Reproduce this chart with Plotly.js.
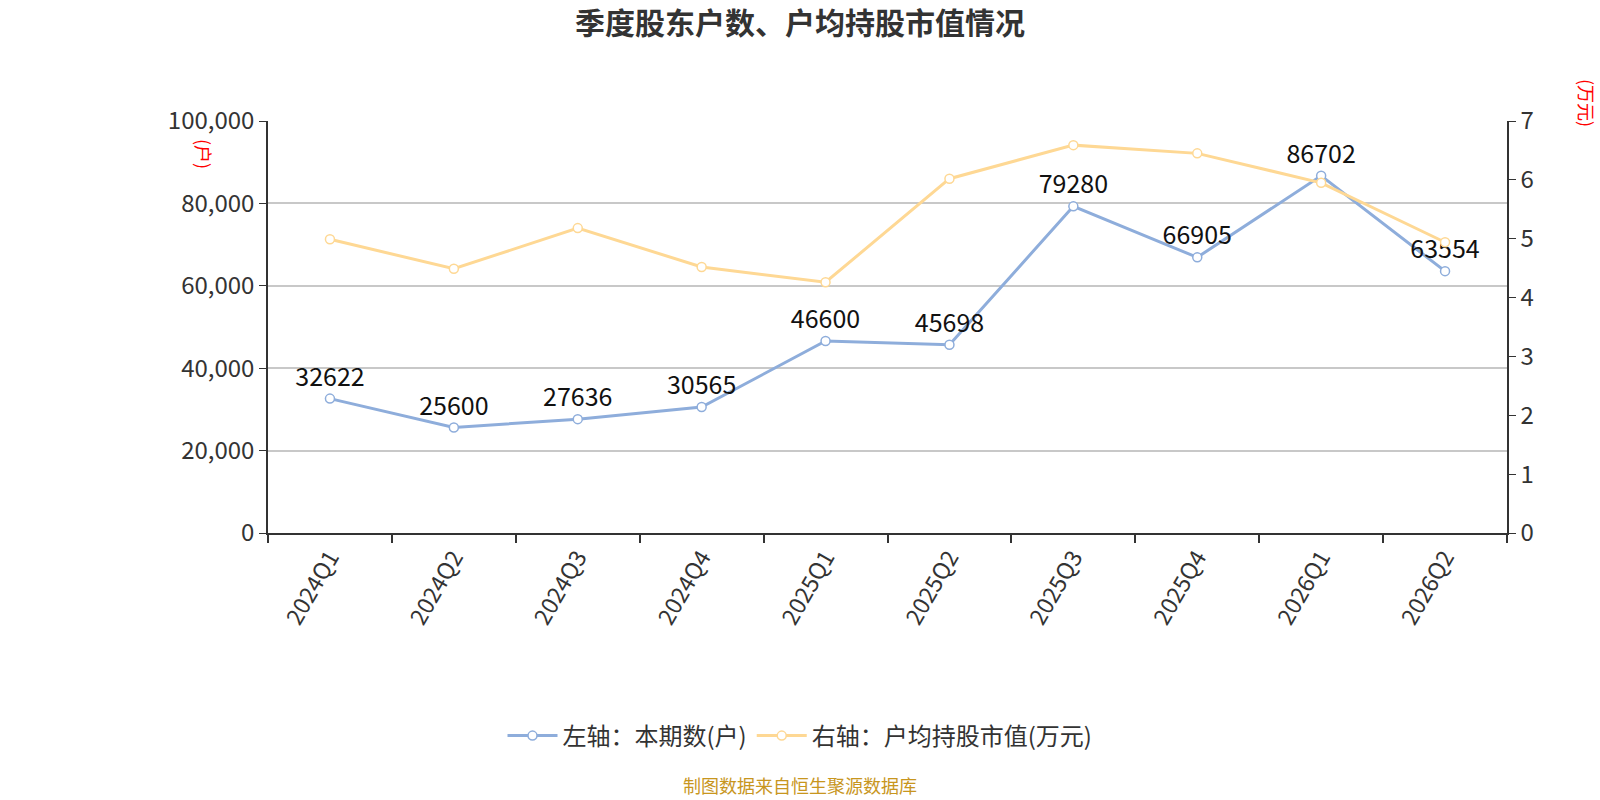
<!DOCTYPE html>
<html>
<head>
<meta charset="utf-8">
<script src="https://cdn.plot.ly/plotly-3.0.1.min.js"></script>
<style>
  html, body { margin: 0; padding: 0; background: #fff; }
  #chart { width: 1600px; height: 800px; }
</style>
</head>
<body>
<div id="chart"></div>
<script>
// quarters on the category axis
var quarters = ["2024Q1", "2024Q2", "2024Q3", "2024Q4", "2025Q1",
                "2025Q2", "2025Q3", "2025Q4", "2026Q1", "2026Q2"];

// left axis: shareholder count (户)
var holders = [32622, 25600, 27636, 30565, 46600, 45698, 79280, 66905, 86702, 63554];

// right axis: average holding value per account (万元)
var avgValue = [4.99, 4.49, 5.18, 4.52, 4.26, 6.02, 6.59, 6.45, 5.95, 4.94];

var fontCN = "'Microsoft YaHei', 'Noto Sans CJK SC', 'Noto Sans', sans-serif";
var blue = "#8eaddb";
var yellow = "#fed894";

// plot box in page pixels
var L = 268, R = 1507, T = 121, B = 533;
var W = R - L, H = B - T;

var data = [
    {
        type: "scatter",
        mode: "lines+markers+text",
        name: "左轴：本期数(户)",
        x: quarters,
        y: holders,
        text: holders.map(String),
        textposition: "top center",
        textfont: { size: 25, color: "#111", family: fontCN },
        line: { color: blue, width: 3 },
        marker: { symbol: "circle", size: 9, color: "#fff", line: { color: blue, width: 1.5 } },
        cliponaxis: false,
        hoverinfo: "x+y"
    },
    {
        type: "scatter",
        mode: "lines+markers",
        name: "右轴：户均持股市值(万元)",
        x: quarters,
        y: avgValue,
        yaxis: "y2",
        line: { color: yellow, width: 3 },
        marker: { symbol: "circle", size: 9, color: "#fff", line: { color: yellow, width: 1.5 } },
        cliponaxis: false,
        hoverinfo: "x+y"
    }
];

var layout = {
    width: 1600,
    height: 800,
    margin: { l: L, r: 1600 - R, t: T, b: 800 - B },
    paper_bgcolor: "#fff",
    plot_bgcolor: "#fff",
    font: { family: fontCN, color: "#333" },
    title: {
        text: "<b>季度股东户数、户均持股市值情况</b>",
        x: 0.5,
        xanchor: "center",
        y: 1 - 23 / 800,
        yanchor: "middle",
        font: { size: 30, color: "#333", family: fontCN }
    },
    showlegend: true,
    legend: {
        orientation: "h",
        x: 0.5,
        xanchor: "center",
        xref: "container",
        y: 1 - 736 / 800,
        yref: "container",
        yanchor: "middle",
        font: { size: 24, color: "#333", family: fontCN },
        itemwidth: 50
    },
    xaxis: {
        type: "category",
        range: [-0.5, quarters.length - 0.5],
        tickson: "boundaries",
        ticks: "outside",
        ticklen: 8,
        tickwidth: 1.5,
        tickcolor: "#333",
        tickangle: -60,
        tickfont: { size: 23, color: "#333" },
        showline: true,
        linecolor: "#333",
        linewidth: 1.5,
        showgrid: false,
        zeroline: false,
        fixedrange: true
    },
    yaxis: {
        range: [0, 100000],
        dtick: 20000,
        tickformat: ",",
        ticks: "outside",
        ticklen: 7,
        tickcolor: "#333",
        tickfont: { size: 24, color: "#333" },
        showline: true,
        linecolor: "#333",
        linewidth: 1.5,
        showgrid: true,
        gridcolor: "#c8c8c8",
        gridwidth: 1.5,
        zeroline: false,
        fixedrange: true
    },
    yaxis2: {
        overlaying: "y",
        side: "right",
        range: [0, 7],
        dtick: 1,
        ticks: "outside",
        ticklen: 7,
        tickcolor: "#333",
        tickfont: { size: 24, color: "#333" },
        showline: true,
        linecolor: "#333",
        linewidth: 1.5,
        showgrid: false,
        zeroline: false,
        fixedrange: true
    },
    annotations: [
        {
            text: "(户)",
            xref: "paper", yref: "paper",
            x: (204 - L) / W, y: (B - 154) / H,
            xanchor: "center", yanchor: "middle",
            textangle: 90,
            showarrow: false,
            font: { size: 18, color: "#ff0000", family: fontCN }
        },
        {
            text: "(万元)",
            xref: "paper", yref: "paper",
            x: (1587 - L) / W, y: (B - 103) / H,
            xanchor: "center", yanchor: "middle",
            textangle: 90,
            showarrow: false,
            font: { size: 18, color: "#ff0000", family: fontCN }
        },
        {
            text: "制图数据来自恒生聚源数据库",
            xref: "paper", yref: "paper",
            x: (800 - L) / W, y: (B - 785) / H,
            xanchor: "center", yanchor: "middle",
            showarrow: false,
            font: { size: 18, color: "#c8961e", family: fontCN }
        }
    ]
};

Plotly.newPlot("chart", data, layout, { displayModeBar: false, responsive: false });
</script>
</body>
</html>
